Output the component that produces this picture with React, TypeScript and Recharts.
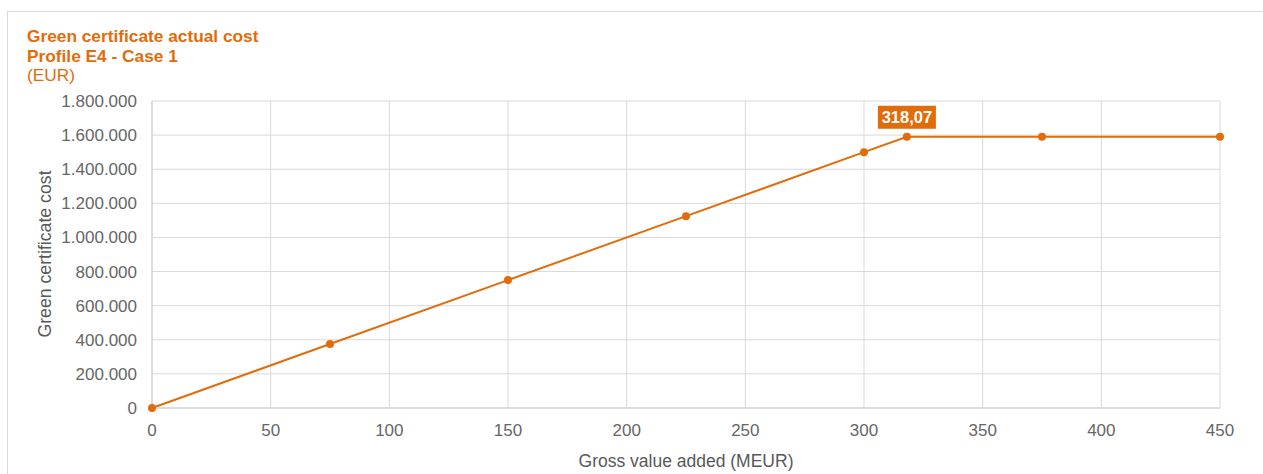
import React from "react";
import {
  LineChart,
  Line,
  CartesianGrid,
  XAxis,
  YAxis,
} from "recharts";

const gva = [0, 75, 150, 225, 300, 318.07, 375, 450];
const cost = [0, 375000, 750000, 1125000, 1500000, 1590350, 1590350, 1590350];
const xTicks = [0, 50, 100, 150, 200, 250, 300, 350, 400, 450];
const yTicks = [0, 200000, 400000, 600000, 800000, 1000000, 1200000, 1400000, 1600000, 1800000];
const flagIndex = 5;
const flagText = "318,07";

const orange = "#e36c0a";
const font = '"Liberation Sans", Arial, sans-serif';

const data = gva.map((x, i) => ({ x, y: cost[i] }));

const dotted = (v: number) => String(v).replace(/\B(?=(\d{3})+(?!\d))/g, ".");

const FlagLabel = (props: any) => {
  const { x, y, index } = props;
  if (index !== flagIndex) return null;
  const w = 58;
  const h = 23;
  return (
    <g>
      <rect x={x - w / 2} y={y - 8 - h} width={w} height={h} fill={orange} />
      <text
        x={x}
        y={y - 8 - h / 2}
        dy="0.36em"
        textAnchor="middle"
        fill="#fff"
        fontWeight="bold"
        fontSize={16.5}
        fontFamily={font}
      >
        {flagText}
      </text>
    </g>
  );
};

export default function App() {
  const tick = { fill: "#666", fontSize: 17, fontFamily: font };
  return (
    <div style={{ position: "absolute", left: 0, top: 0, width: 1263, height: 474, fontFamily: font, background: "#fff", overflow: "hidden" }}>
      <div style={{ position: "absolute", left: 7, top: 11, width: 1300, height: 480, borderTop: "1px solid #d9d9d9", borderLeft: "1px solid #d9d9d9" }} />
      <div style={{ position: "absolute", left: 27, top: 27, color: orange, fontSize: 17.3, lineHeight: "19.5px" }}>
        <div style={{ fontWeight: "bold" }}>Green certificate actual cost</div>
        <div style={{ fontWeight: "bold" }}>Profile E4 - Case 1</div>
        <div>(EUR)</div>
      </div>
      <div
        style={{
          position: "absolute",
          left: 45,
          top: 254,
          transform: "translate(-50%, -50%) rotate(-90deg)",
          whiteSpace: "nowrap",
          color: "#595959",
          fontSize: 17.7,
        }}
      >
        Green certificate cost
      </div>
      <div style={{ position: "absolute", left: 0, top: 0 }}>
        <LineChart
          width={1263}
          height={474}
          data={data}
          margin={{ top: 101, right: 43, bottom: 0, left: 60 }}
        >
          <CartesianGrid stroke="#d9d9d9" />
          <XAxis
            type="number"
            dataKey="x"
            domain={[0, 450]}
            ticks={xTicks}
            height={66}
            tick={tick}
            tickLine={false}
            tickMargin={10}
            axisLine={{ stroke: "#cccccc" }}
            label={{
              value: "Gross value added (MEUR)",
              position: "insideBottom",
              offset: 7,
              fill: "#595959",
              fontSize: 17.5,
              fontFamily: font,
            }}
          />
          <YAxis
            type="number"
            dataKey="y"
            domain={[0, 1800000]}
            ticks={yTicks}
            width={92}
            tick={tick}
            tickLine={false}
            tickMargin={9}
            tickFormatter={dotted}
            axisLine={{ stroke: "#cccccc" }}
          />
          <Line
            type="linear"
            dataKey="y"
            stroke={orange}
            strokeWidth={2}
            dot={{ r: 4, fill: orange, stroke: orange, strokeWidth: 0 }}
            label={<FlagLabel />}
            isAnimationActive={false}
          />
        </LineChart>
      </div>
    </div>
  );
}
